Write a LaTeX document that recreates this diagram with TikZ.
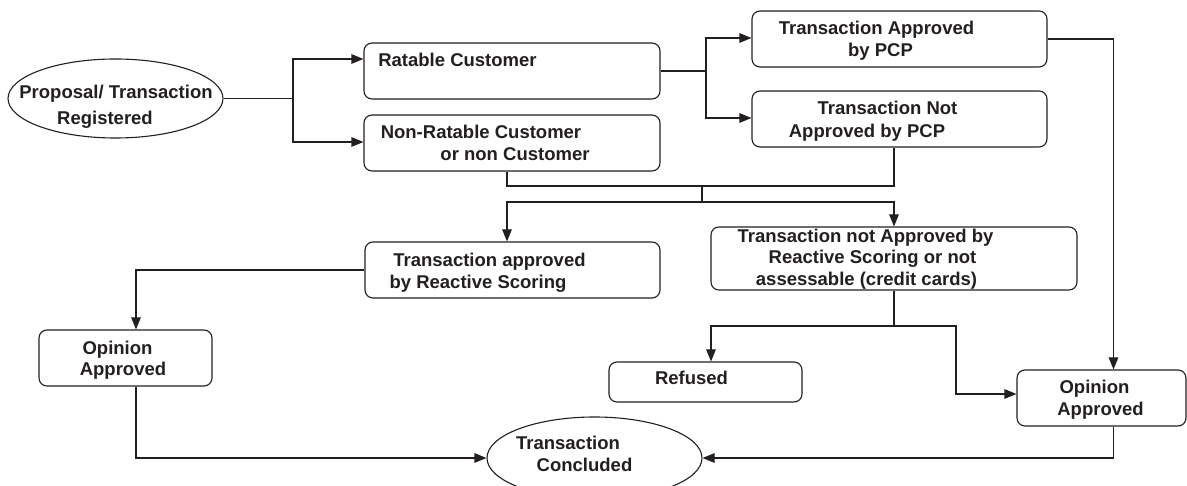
\documentclass[tikz,border=0pt]{standalone}
\usepackage{fontspec}
\setmainfont{Liberation Sans}
\usetikzlibrary{shapes.geometric,arrows.meta}
\definecolor{ink}{HTML}{231F20}
\tikzset{
  boxshape/.style={draw=ink, line width=1.1pt, rounded corners=8pt, rectangle, inner sep=0pt},
  ovalshape/.style={draw=ink, line width=1.1pt, ellipse, inner sep=0pt},
  lbl/.style={anchor=base, inner sep=0pt, text=ink, font=\fontsize{18.5}{22}\selectfont\bfseries},
  conn/.style={draw=ink, line width=1.1pt},
  arr/.style={conn, -{Triangle[length=12pt,width=9.5pt]}}
}
\begin{document}
\begin{tikzpicture}[x=1pt,y=-1pt]
\useasboundingbox (0,0) rectangle (1187,486);
% shapes
\node[ovalshape, minimum width=215pt, minimum height=79pt] (reg) at (115.5,98.5) {};
\node[boxshape, minimum width=296pt, minimum height=56pt] (rat) at (512,71) {};
\node[boxshape, minimum width=296pt, minimum height=56pt] (nonrat) at (512,143) {};
\node[boxshape, minimum width=295pt, minimum height=56pt] (tap) at (899.5,39) {};
\node[boxshape, minimum width=295pt, minimum height=56pt] (tnap) at (899.5,119) {};
\node[boxshape, minimum width=295pt, minimum height=56pt] (tars) at (512.5,270) {};
\node[boxshape, minimum width=366pt, minimum height=63pt] (tnars) at (894,258.5) {};
\node[boxshape, minimum width=193pt, minimum height=40pt] (ref) at (705.5,382) {};
\node[boxshape, minimum width=173pt, minimum height=56pt] (oa1) at (125.5,358) {};
\node[boxshape, minimum width=169pt, minimum height=56pt] (oa2) at (1101.5,398) {};
\node[ovalshape, minimum width=215pt, minimum height=82pt] (tc) at (594.5,458) {};
% texts
\node[lbl] (t1) at (116,98.5) {Proposal/ Transaction};
\node[lbl] (t2) at (105,124.5) {Registered};
\node[lbl] (t3) at (457.5,66.5) {Ratable Customer};
\node[lbl] (t4) at (481,138.5) {Non-Ratable Customer};
\node[lbl] (t5) at (515,160.5) {or non Customer};
\node[lbl] (t6) at (876.5,34.5) {Transaction Approved};
\node[lbl] (t7) at (880.5,56.5) {by PCP};
\node[lbl] (t8) at (887.5,114.5) {Transaction Not};
\node[lbl] (t9) at (867,137.5) {Approved by PCP};
\node[lbl] (t10) at (489.5,266.5) {Transaction approved};
\node[lbl] (t11) at (478,288.5) {by Reactive Scoring};
\node[lbl] (t12) at (865.5,242.5) {Transaction not Approved by};
\node[lbl] (t13) at (872.5,263.5) {Reactive Scoring or not};
\node[lbl] (t14) at (866.5,285.5) {assessable (credit cards)};
\node[lbl] (t15) at (691.5,384.5) {Refused};
\node[lbl] (t16) at (117.5,354.5) {Opinion};
\node[lbl] (t17) at (123,375.5) {Approved};
\node[lbl] (t18) at (1094.5,393.5) {Opinion};
\node[lbl] (t19) at (1100.5,415.5) {Approved};
\node[lbl] (t20) at (568,449.5) {Transaction};
\node[lbl] (t21) at (584.5,471.5) {Concluded};
% junctions
\coordinate (f1) at (293,98.5);
\coordinate (f2) at (706,71);
\coordinate (j1) at (702,186);
\coordinate (j2) at (702,202);
\coordinate (j3) at (894,326);
\coordinate (j4) at (956,326);
% connectors
\draw[conn] (reg.east) -- (f1);
\draw[arr] (f1) |- ([yshift=12pt]rat.west);
\draw[arr] (f1) |- ([yshift=1pt]nonrat.west);
\draw[conn] (rat.east) -- (f2);
\draw[arr] (f2) |- ([yshift=1pt]tap.west);
\draw[arr] (f2) |- ([yshift=1pt]tnap.west);
\draw[arr] (tap.east) -| ([xshift=12pt]oa2.north);
\draw[conn] ([xshift=-5pt]nonrat.south) |- (j1) -| ([xshift=-5.5pt]tnap.south);
\draw[conn] (j1) -- (j2);
\draw[arr] (j2) -| ([xshift=-5.5pt]tars.north);
\draw[arr] (j2) -| (tnars.north);
\draw[arr] (tars.west) -| ([xshift=10.5pt]oa1.north);
\draw[arr] ([xshift=10.5pt]oa1.south) |- (tc.west);
\draw[conn] (tnars.south) -- (j3);
\draw[arr] (j3) -| ([xshift=5.5pt]ref.north);
\draw[arr] (j3) -- (j4) |- ([yshift=4pt]oa2.west);
\draw[arr] ([xshift=12pt]oa2.south) |- (tc.east);
\end{tikzpicture}
\end{document}
